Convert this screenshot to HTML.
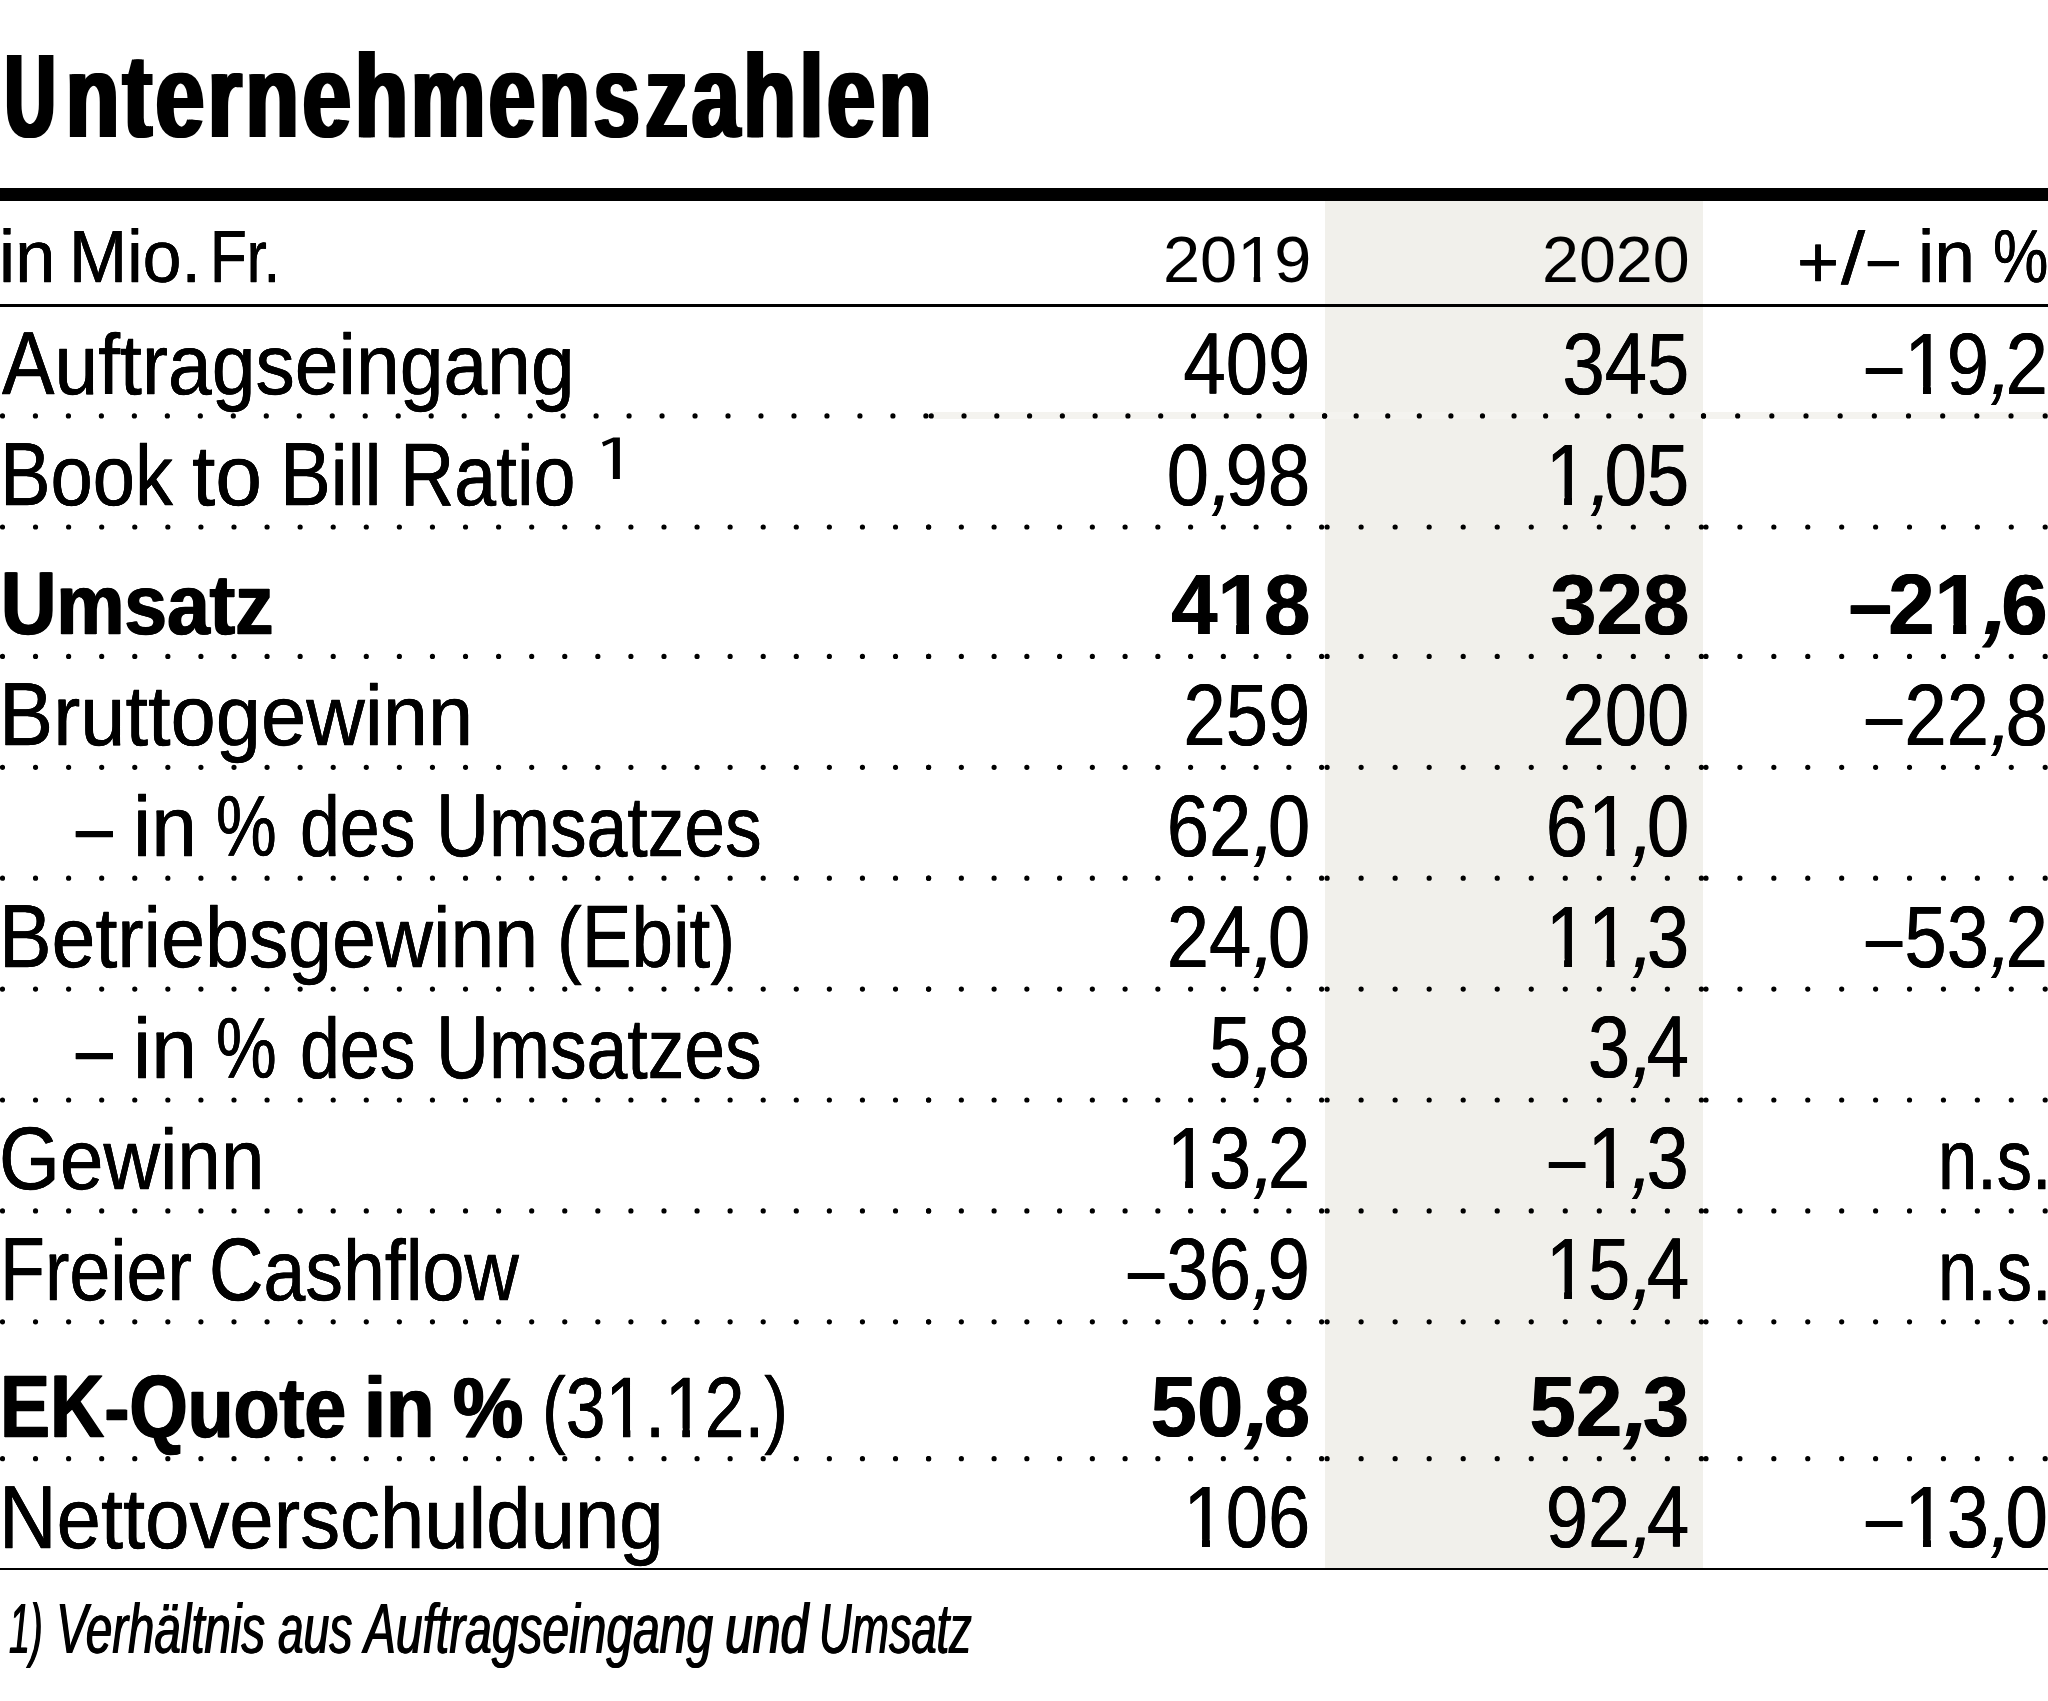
<!DOCTYPE html>
<html lang="de"><head><meta charset="utf-8"><title>Unternehmenszahlen</title>
<style>
html,body{margin:0;padding:0;background:#fff;}
#pg{position:relative;width:2048px;height:1701px;overflow:hidden;background:#fff;font-family:"Liberation Sans",sans-serif;color:#000;}
.t{position:absolute;white-space:nowrap;line-height:1;transform-origin:0 0;font-kerning:normal;}
.b{font-weight:700}.i{font-style:italic}
.n{font-size:86.5px;transform-origin:100% 0;transform:scaleX(0.8793);text-shadow:.35px 0 0 #000,-.35px 0 0 #000}
.n.b{font-size:85.3px;transform:scaleX(0.978);text-shadow:.5px 0 0 #000,-.5px 0 0 #000}
.c{display:inline-block;margin:0 -2.6px;transform-origin:50% 84.65%;transform:skewX(-13deg)}
.b .c{margin:0 -1.5px}
.b .d{transform:translateY(-1.3px) scaleX(.932);margin-right:-3.9px}
.k{display:inline-block;transform-origin:50% 84.65%;transform:scaleY(1.03)}
.u{display:inline-block;transform-origin:0 50%;transform:scaleX(.80);margin-right:-8px;text-shadow:4px 0 0 #000,-4px 0 0 #000,2px 0 0 #000,-2px 0 0 #000}
.o{display:inline-block;clip-path:polygon(0 0,100% 0,100% .752em,.3455em .752em,.3455em 100%,.246em 100%,.246em .752em,0 .752em)}
.b .o{clip-path:polygon(0 0,100% 0,100% .725em,.3775em .725em,.3775em 100%,.2265em 100%,.2265em .725em,0 .725em)}
.d{display:inline-block;transform-origin:100% 50%;transform:translateY(-1.3px) scaleX(.856);margin-right:2.6px}
.r{position:absolute;left:0;width:2048px;background:#000}
#sh{position:absolute;left:1324.7px;top:200.5px;width:378.5px;height:1368px;background:#f1f0eb}
svg{position:absolute;left:0;top:0}
</style></head><body>
<div id="pg">
<div id="sh"></div>
<div style="position:absolute;left:931px;top:412.2px;width:1117px;height:7.1px;background:#f4f3ef"></div>
<div class="r" style="top:187.6px;height:13px"></div>
<div class="r" style="top:304px;height:2.9px"></div>
<div class="r" style="top:1568.1px;height:2.2px"></div>
<svg width="2048" height="1701" viewBox="0 0 2048 1701"><g stroke="#000" stroke-width="5.2" stroke-linecap="round" fill="none">
<line x1="2.46" y1="415.90" x2="925.91" y2="415.90" stroke-dasharray="0 32.9800"/><line x1="931.25" y1="415.90" x2="1324.61" y2="415.90" stroke-dasharray="0 32.7792"/><line x1="1324.60" y1="415.90" x2="1703.51" y2="415.90" stroke-dasharray="0 31.5750"/><line x1="1703.50" y1="415.90" x2="2045.21" y2="415.90" stroke-dasharray="0 34.1700"/>
<line x1="2.46" y1="527.00" x2="928.61" y2="527.00" stroke-dasharray="0 33.0764"/><line x1="928.60" y1="527.00" x2="1321.61" y2="527.00" stroke-dasharray="0 32.7500"/><line x1="1327.10" y1="527.00" x2="1701.41" y2="527.00" stroke-dasharray="0 34.0273"/><line x1="1706.00" y1="527.00" x2="2045.21" y2="527.00" stroke-dasharray="0 33.9200"/>
<line x1="2.46" y1="656.40" x2="928.61" y2="656.40" stroke-dasharray="0 33.0764"/><line x1="928.60" y1="656.40" x2="1321.61" y2="656.40" stroke-dasharray="0 32.7500"/><line x1="1327.10" y1="656.40" x2="1701.41" y2="656.40" stroke-dasharray="0 34.0273"/><line x1="1706.00" y1="656.40" x2="2045.21" y2="656.40" stroke-dasharray="0 33.9200"/>
<line x1="2.46" y1="767.30" x2="928.61" y2="767.30" stroke-dasharray="0 33.0764"/><line x1="928.60" y1="767.30" x2="1321.61" y2="767.30" stroke-dasharray="0 32.7500"/><line x1="1327.10" y1="767.30" x2="1701.41" y2="767.30" stroke-dasharray="0 34.0273"/><line x1="1706.00" y1="767.30" x2="2045.21" y2="767.30" stroke-dasharray="0 33.9200"/>
<line x1="2.46" y1="878.20" x2="928.61" y2="878.20" stroke-dasharray="0 33.0764"/><line x1="928.60" y1="878.20" x2="1321.61" y2="878.20" stroke-dasharray="0 32.7500"/><line x1="1327.10" y1="878.20" x2="1701.41" y2="878.20" stroke-dasharray="0 34.0273"/><line x1="1706.00" y1="878.20" x2="2045.21" y2="878.20" stroke-dasharray="0 33.9200"/>
<line x1="2.46" y1="989.10" x2="928.61" y2="989.10" stroke-dasharray="0 33.0764"/><line x1="928.60" y1="989.10" x2="1321.61" y2="989.10" stroke-dasharray="0 32.7500"/><line x1="1327.10" y1="989.10" x2="1701.41" y2="989.10" stroke-dasharray="0 34.0273"/><line x1="1706.00" y1="989.10" x2="2045.21" y2="989.10" stroke-dasharray="0 33.9200"/>
<line x1="2.46" y1="1100.00" x2="928.61" y2="1100.00" stroke-dasharray="0 33.0764"/><line x1="928.60" y1="1100.00" x2="1321.61" y2="1100.00" stroke-dasharray="0 32.7500"/><line x1="1327.10" y1="1100.00" x2="1701.41" y2="1100.00" stroke-dasharray="0 34.0273"/><line x1="1706.00" y1="1100.00" x2="2045.21" y2="1100.00" stroke-dasharray="0 33.9200"/>
<line x1="2.46" y1="1210.90" x2="928.61" y2="1210.90" stroke-dasharray="0 33.0764"/><line x1="928.60" y1="1210.90" x2="1321.61" y2="1210.90" stroke-dasharray="0 32.7500"/><line x1="1327.10" y1="1210.90" x2="1701.41" y2="1210.90" stroke-dasharray="0 34.0273"/><line x1="1706.00" y1="1210.90" x2="2045.21" y2="1210.90" stroke-dasharray="0 33.9200"/>
<line x1="2.46" y1="1321.80" x2="928.61" y2="1321.80" stroke-dasharray="0 33.0764"/><line x1="928.60" y1="1321.80" x2="1321.61" y2="1321.80" stroke-dasharray="0 32.7500"/><line x1="1327.10" y1="1321.80" x2="1701.41" y2="1321.80" stroke-dasharray="0 34.0273"/><line x1="1706.00" y1="1321.80" x2="2045.21" y2="1321.80" stroke-dasharray="0 33.9200"/>
<line x1="2.46" y1="1458.70" x2="928.61" y2="1458.70" stroke-dasharray="0 33.0764"/><line x1="928.60" y1="1458.70" x2="1321.61" y2="1458.70" stroke-dasharray="0 32.7500"/><line x1="1327.10" y1="1458.70" x2="1701.41" y2="1458.70" stroke-dasharray="0 34.0273"/><line x1="1706.00" y1="1458.70" x2="2045.21" y2="1458.70" stroke-dasharray="0 33.9200"/>
</g>
<polygon fill="#000" points="602.0,442.3 613.3,437.4 619.9,437.4 619.9,479.0 612.9,479.0 612.9,442.1 603.4,446.6"/>
</svg>
<div class="t" style="left:603px;top:433px;font-size:52px;color:transparent">1</div>
<div class="t b" style="left:5.33px;top:36.17px;font-size:119px;transform:scaleX(0.7339);letter-spacing:5.0px;text-shadow:2.8px 0 0 #000,-2.8px 0 0 #000;"><span class="u">U</span>nterneh</div>
<div class="t b" style="left:411.49px;top:36.17px;font-size:119px;transform:scaleX(0.7022);letter-spacing:5.0px;text-shadow:2.8px 0 0 #000,-2.8px 0 0 #000;">mens</div>
<div class="t b" style="left:644.85px;top:36.17px;font-size:119px;transform:scaleX(0.7244);letter-spacing:5.0px;text-shadow:2.8px 0 0 #000,-2.8px 0 0 #000;">zahlen</div>
<div class="t" style="left:-0.94px;top:219.21px;font-size:75.0px;transform:scaleX(0.9673);-webkit-text-stroke:0.25px #000;text-shadow:0.2px 0 0 #000,-0.2px 0 0 #000;">in</div>
<div class="t" style="left:69.11px;top:219.21px;font-size:75.0px;transform:scaleX(0.9310);-webkit-text-stroke:0.25px #000;text-shadow:0.2px 0 0 #000,-0.2px 0 0 #000;">Mio.</div>
<div class="t" style="left:210.48px;top:219.21px;font-size:75.0px;transform:scaleX(0.8027);-webkit-text-stroke:0.25px #000;text-shadow:0.2px 0 0 #000,-0.2px 0 0 #000;">Fr.</div>
<div class="t" style="left:1162.75px;top:227.08px;font-size:65.7px;transform:scaleX(1.0157);">20<span class="o">1</span>9</div>
<div class="t" style="left:1541.97px;top:227.08px;font-size:65.7px;transform:scaleX(1.0107);">2020</div>
<div class="t" style="left:1797.41px;top:224.81px;font-size:75.0px;transform:scaleX(0.9632);-webkit-text-stroke:0.25px #000;text-shadow:0.2px 0 0 #000,-0.2px 0 0 #000;">+</div>
<div class="t" style="left:1840.80px;top:220.71px;font-size:75.0px;transform:scaleX(1.1571);-webkit-text-stroke:0.25px #000;text-shadow:0.2px 0 0 #000,-0.2px 0 0 #000;">/</div>
<div class="t" style="left:1868.30px;top:219.21px;font-size:75.0px;transform:scaleX(0.7333);-webkit-text-stroke:0.25px #000;text-shadow:0.2px 0 0 #000,-0.2px 0 0 #000;">–</div>
<div class="t" style="left:1917.72px;top:219.21px;font-size:75.0px;transform:scaleX(0.9755);-webkit-text-stroke:0.25px #000;text-shadow:0.2px 0 0 #000,-0.2px 0 0 #000;">in</div>
<div class="t" style="left:1992.94px;top:219.21px;font-size:75.0px;transform:scaleX(0.8290);-webkit-text-stroke:0.25px #000;text-shadow:0.2px 0 0 #000,-0.2px 0 0 #000;">%</div>
<div class="t" style="left:1.70px;top:321.00px;font-size:86.0px;transform:scaleX(0.9142);-webkit-text-stroke:0.35px #000;text-shadow:0.2px 0 0 #000,-0.2px 0 0 #000;"><span class="k">A</span>uftragseingang</div>
<div class="t" style="left:-0.17px;top:432.10px;font-size:86.0px;transform:scaleX(0.8820);-webkit-text-stroke:0.35px #000;text-shadow:0.2px 0 0 #000,-0.2px 0 0 #000;"><span class="k">B</span>ook</div>
<div class="t" style="left:191.62px;top:432.10px;font-size:86.0px;transform:scaleX(0.9765);-webkit-text-stroke:0.35px #000;text-shadow:0.2px 0 0 #000,-0.2px 0 0 #000;">to</div>
<div class="t" style="left:280.40px;top:432.10px;font-size:86.0px;transform:scaleX(0.8853);-webkit-text-stroke:0.35px #000;text-shadow:0.2px 0 0 #000,-0.2px 0 0 #000;"><span class="k">B</span>ill</div>
<div class="t" style="left:399.68px;top:432.10px;font-size:86.0px;transform:scaleX(0.8738);-webkit-text-stroke:0.35px #000;text-shadow:0.2px 0 0 #000,-0.2px 0 0 #000;"><span class="k">R</span>atio</div>
<div class="t b" style="left:1.44px;top:561.40px;font-size:86.0px;transform:scaleX(0.8910);-webkit-text-stroke:0.4px #000;text-shadow:1.0px 0 0 #000,-1.0px 0 0 #000;"><span class="k">U</span>msatz</div>
<div class="t" style="left:-0.71px;top:672.30px;font-size:86.0px;transform:scaleX(0.9447);-webkit-text-stroke:0.35px #000;text-shadow:0.2px 0 0 #000,-0.2px 0 0 #000;"><span class="k">B</span>ruttogewinn</div>
<div class="t" style="left:75.80px;top:783.20px;font-size:86.0px;transform:scaleX(0.7688);-webkit-text-stroke:0.35px #000;text-shadow:0.2px 0 0 #000,-0.2px 0 0 #000;">–</div>
<div class="t" style="left:132.62px;top:783.20px;font-size:86.0px;transform:scaleX(0.9561);-webkit-text-stroke:0.35px #000;text-shadow:0.2px 0 0 #000,-0.2px 0 0 #000;">in</div>
<div class="t" style="left:215.82px;top:783.20px;font-size:86.0px;transform:scaleX(0.7930);-webkit-text-stroke:0.35px #000;text-shadow:0.2px 0 0 #000,-0.2px 0 0 #000;">%</div>
<div class="t" style="left:300.10px;top:783.20px;font-size:86.0px;transform:scaleX(0.8331);-webkit-text-stroke:0.35px #000;text-shadow:0.2px 0 0 #000,-0.2px 0 0 #000;">des</div>
<div class="t" style="left:436.39px;top:783.20px;font-size:86.0px;transform:scaleX(0.8521);-webkit-text-stroke:0.35px #000;text-shadow:0.2px 0 0 #000,-0.2px 0 0 #000;"><span class="k">U</span>msatzes</div>
<div class="t" style="left:-0.52px;top:894.00px;font-size:86.0px;transform:scaleX(0.9168);-webkit-text-stroke:0.35px #000;text-shadow:0.2px 0 0 #000,-0.2px 0 0 #000;"><span class="k">B</span>etriebsgewinn</div>
<div class="t" style="left:556.97px;top:894.00px;font-size:86.0px;transform:scaleX(0.8667);-webkit-text-stroke:0.35px #000;text-shadow:0.2px 0 0 #000,-0.2px 0 0 #000;">(<span class="k">E</span>bit)</div>
<div class="t" style="left:75.80px;top:1004.90px;font-size:86.0px;transform:scaleX(0.7688);-webkit-text-stroke:0.35px #000;text-shadow:0.2px 0 0 #000,-0.2px 0 0 #000;">–</div>
<div class="t" style="left:132.62px;top:1004.90px;font-size:86.0px;transform:scaleX(0.9561);-webkit-text-stroke:0.35px #000;text-shadow:0.2px 0 0 #000,-0.2px 0 0 #000;">in</div>
<div class="t" style="left:215.82px;top:1004.90px;font-size:86.0px;transform:scaleX(0.7930);-webkit-text-stroke:0.35px #000;text-shadow:0.2px 0 0 #000,-0.2px 0 0 #000;">%</div>
<div class="t" style="left:300.10px;top:1004.90px;font-size:86.0px;transform:scaleX(0.8331);-webkit-text-stroke:0.35px #000;text-shadow:0.2px 0 0 #000,-0.2px 0 0 #000;">des</div>
<div class="t" style="left:436.39px;top:1004.90px;font-size:86.0px;transform:scaleX(0.8521);-webkit-text-stroke:0.35px #000;text-shadow:0.2px 0 0 #000,-0.2px 0 0 #000;"><span class="k">U</span>msatzes</div>
<div class="t" style="left:-0.54px;top:1115.80px;font-size:86.0px;transform:scaleX(0.9103);-webkit-text-stroke:0.35px #000;text-shadow:0.2px 0 0 #000,-0.2px 0 0 #000;"><span class="k">G</span>ewinn</div>
<div class="t" style="left:1937.70px;top:1115.80px;font-size:86.0px;transform:scaleX(0.8190);-webkit-text-stroke:0.35px #000;text-shadow:0.2px 0 0 #000,-0.2px 0 0 #000;">n.s.</div>
<div class="t" style="left:-0.08px;top:1226.80px;font-size:86.0px;transform:scaleX(0.8548);-webkit-text-stroke:0.35px #000;text-shadow:0.2px 0 0 #000,-0.2px 0 0 #000;"><span class="k">F</span>reier</div>
<div class="t" style="left:209.40px;top:1226.80px;font-size:86.0px;transform:scaleX(0.8760);-webkit-text-stroke:0.35px #000;text-shadow:0.2px 0 0 #000,-0.2px 0 0 #000;"><span class="k">C</span>ashflow</div>
<div class="t" style="left:1937.70px;top:1226.80px;font-size:86.0px;transform:scaleX(0.8190);-webkit-text-stroke:0.35px #000;text-shadow:0.2px 0 0 #000,-0.2px 0 0 #000;">n.s.</div>
<div class="t b" style="left:0.34px;top:1363.70px;font-size:86.0px;transform:scaleX(0.8728);-webkit-text-stroke:0.4px #000;text-shadow:1.0px 0 0 #000,-1.0px 0 0 #000;"><span class="k">E</span><span class="k">K</span>-<span class="k">Q</span>uote</div>
<div class="t b" style="left:363.99px;top:1363.70px;font-size:86.0px;transform:scaleX(0.9224);-webkit-text-stroke:0.4px #000;text-shadow:1.0px 0 0 #000,-1.0px 0 0 #000;">in</div>
<div class="t b" style="left:452.68px;top:1363.70px;font-size:86.0px;transform:scaleX(0.9176);-webkit-text-stroke:0.4px #000;text-shadow:1.0px 0 0 #000,-1.0px 0 0 #000;">%</div>
<div class="t" style="left:541.65px;top:1363.70px;font-size:86.0px;transform:scaleX(0.8301);-webkit-text-stroke:0.35px #000;text-shadow:0.2px 0 0 #000,-0.2px 0 0 #000;">(3<span class="o">1</span>.<span class="o">1</span>2.)</div>
<div class="t" style="left:-0.89px;top:1474.60px;font-size:86.0px;transform:scaleX(0.9268);-webkit-text-stroke:0.35px #000;text-shadow:0.2px 0 0 #000,-0.2px 0 0 #000;"><span class="k">N</span>ettoverschuldung</div>
<div class="t i" style="left:8.77px;top:1594.12px;font-size:70.5px;transform:scaleX(0.5345);text-shadow:0.9px 0 0 #000,-0.9px 0 0 #000;">1)</div>
<div class="t i" style="left:56.44px;top:1594.12px;font-size:70.5px;transform:scaleX(0.6725);text-shadow:0.9px 0 0 #000,-0.9px 0 0 #000;">Verhältnis</div>
<div class="t i" style="left:277.65px;top:1594.12px;font-size:70.5px;transform:scaleX(0.6545);text-shadow:0.9px 0 0 #000,-0.9px 0 0 #000;">aus</div>
<div class="t i" style="left:364.02px;top:1594.12px;font-size:70.5px;transform:scaleX(0.6797);text-shadow:0.9px 0 0 #000,-0.9px 0 0 #000;">Auftragseingang</div>
<div class="t i" style="left:724.88px;top:1594.12px;font-size:70.5px;transform:scaleX(0.7076);text-shadow:0.9px 0 0 #000,-0.9px 0 0 #000;">und</div>
<div class="t i" style="left:819.44px;top:1594.12px;font-size:70.5px;transform:scaleX(0.6391);text-shadow:0.9px 0 0 #000,-0.9px 0 0 #000;">Umsatz</div>
<div class="t n" style="right:737.70px;top:320.58px">409</div>
<div class="t n" style="right:359.10px;top:320.58px">345</div>
<div class="t n" style="right:0.50px;top:320.58px"><span class="d">–</span><span class="o">1</span>9<span class="c">,</span>2</div>
<div class="t n" style="right:737.70px;top:431.68px">0<span class="c">,</span>98</div>
<div class="t n" style="right:359.10px;top:431.68px"><span class="o">1</span><span class="c">,</span>05</div>
<div class="t n b" style="right:737.70px;top:561.99px">4<span class="o">1</span>8</div>
<div class="t n b" style="right:359.10px;top:561.99px">328</div>
<div class="t n b" style="right:0.50px;top:561.99px"><span class="d">–</span>2<span class="o">1</span><span class="c">,</span>6</div>
<div class="t n" style="right:737.70px;top:671.88px">259</div>
<div class="t n" style="right:359.10px;top:671.88px">200</div>
<div class="t n" style="right:0.50px;top:671.88px"><span class="d">–</span>22<span class="c">,</span>8</div>
<div class="t n" style="right:737.70px;top:782.78px">62<span class="c">,</span>0</div>
<div class="t n" style="right:359.10px;top:782.78px">6<span class="o">1</span><span class="c">,</span>0</div>
<div class="t n" style="right:737.70px;top:893.58px">24<span class="c">,</span>0</div>
<div class="t n" style="right:359.10px;top:893.58px"><span class="o">1</span><span class="o">1</span><span class="c">,</span>3</div>
<div class="t n" style="right:0.50px;top:893.58px"><span class="d">–</span>53<span class="c">,</span>2</div>
<div class="t n" style="right:737.70px;top:1004.48px">5<span class="c">,</span>8</div>
<div class="t n" style="right:359.10px;top:1004.48px">3<span class="c">,</span>4</div>
<div class="t n" style="right:737.70px;top:1115.38px"><span class="o">1</span>3<span class="c">,</span>2</div>
<div class="t n" style="right:359.10px;top:1115.38px"><span class="d">–</span><span class="o">1</span><span class="c">,</span>3</div>
<div class="t n" style="right:737.70px;top:1226.38px"><span class="d">–</span>36<span class="c">,</span>9</div>
<div class="t n" style="right:359.10px;top:1226.38px"><span class="o">1</span>5<span class="c">,</span>4</div>
<div class="t n b" style="right:737.70px;top:1364.29px">50<span class="c">,</span>8</div>
<div class="t n b" style="right:359.10px;top:1364.29px">52<span class="c">,</span>3</div>
<div class="t n" style="right:737.70px;top:1474.18px"><span class="o">1</span>06</div>
<div class="t n" style="right:359.10px;top:1474.18px">92<span class="c">,</span>4</div>
<div class="t n" style="right:0.50px;top:1474.18px"><span class="d">–</span><span class="o">1</span>3<span class="c">,</span>0</div>
</div>
</body></html>
